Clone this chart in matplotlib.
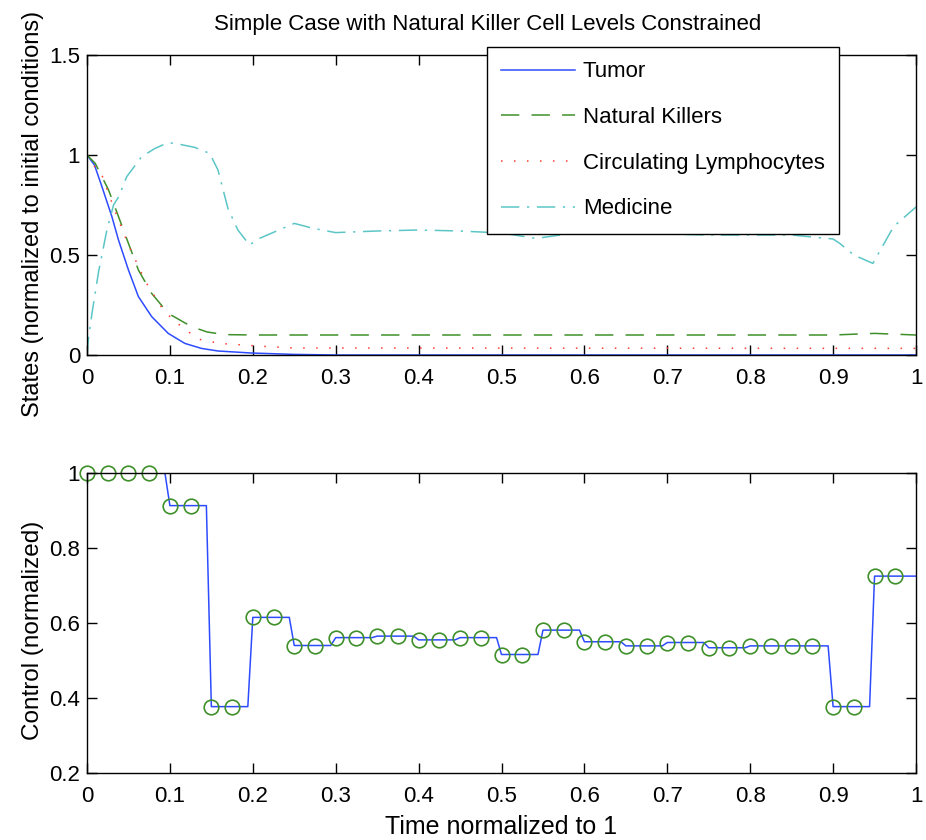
import matplotlib
matplotlib.use('Agg')
import matplotlib.pyplot as plt
import numpy as np

plt.rcParams['font.family'] = ['Liberation Sans', 'DejaVu Sans']

# top panel: states (normalized to initial conditions)
t_tumor = [0, 0.009, 0.018, 0.03, 0.038, 0.05, 0.062, 0.078, 0.098, 0.118, 0.138, 0.158, 0.198, 0.25, 0.3, 1.0]
tumor = [1.0, 0.95, 0.842, 0.692, 0.575, 0.425, 0.292, 0.192, 0.108, 0.058, 0.033, 0.02, 0.01, 0.003, 0.0, 0.0]

t_nk = [0, 0.01, 0.026, 0.038, 0.05, 0.062, 0.078, 0.098, 0.126, 0.145, 0.166, 0.2, 0.9, 0.95, 1.0]
nk = [1.0, 0.958, 0.825, 0.692, 0.558, 0.425, 0.308, 0.208, 0.142, 0.115, 0.102, 0.1, 0.1, 0.108, 0.1]

t_lym = [0, 0.006, 0.018, 0.026, 0.034, 0.046, 0.052, 0.064, 0.072, 0.088, 0.096, 0.108, 0.122,
         0.136, 0.16, 0.188, 0.217, 0.25, 1.0]
lym = [1.0, 0.958, 0.9, 0.808, 0.717, 0.592, 0.533, 0.425, 0.358, 0.25, 0.208, 0.162, 0.117,
       0.078, 0.058, 0.05, 0.042, 0.035, 0.033]

t_med = [0, 0.002, 0.006, 0.014, 0.024, 0.032, 0.038, 0.048, 0.066, 0.082, 0.098, 0.11, 0.13,
         0.148, 0.158, 0.17, 0.182, 0.196, 0.208, 0.25, 0.273, 0.3, 0.35, 0.4, 0.45, 0.5, 0.542,
         0.6, 0.65, 0.7, 0.75, 0.8, 0.85, 0.9, 0.908, 0.925, 0.948, 0.973, 1.0]
med = [0.0, 0.092, 0.208, 0.417, 0.625, 0.75, 0.79, 0.892, 0.992, 1.033, 1.062, 1.055, 1.038,
       1.008, 0.925, 0.733, 0.625, 0.55, 0.583, 0.658, 0.633, 0.612, 0.62, 0.625, 0.62, 0.61, 0.583,
       0.617, 0.61, 0.605, 0.6, 0.6, 0.6, 0.58, 0.558, 0.5, 0.458, 0.642, 0.74]

# bottom panel: control, one value every 0.025
t_ctrl = np.arange(40) * 0.025
ctrl = [1.0, 1.0, 1.0, 1.0, 0.913, 0.913, 0.377, 0.377, 0.615, 0.615,
        0.540, 0.540, 0.561, 0.561, 0.565, 0.565, 0.555, 0.555, 0.561, 0.561,
        0.516, 0.516, 0.581, 0.581, 0.550, 0.550, 0.539, 0.539, 0.548, 0.548,
        0.534, 0.534, 0.539, 0.539, 0.539, 0.539, 0.377, 0.377, 0.725, 0.725]

blue = '#2e4cff'
green = '#3f8f2a'
red = '#ff3b2f'
cyan = '#5cc6c6'
fs = 16
lfs = 17.5

fig = plt.figure(figsize=(9.26, 8.4), dpi=100)
ax1 = fig.add_axes([87/926, 1-355/840, 829/926, 300/840])
ax2 = fig.add_axes([87/926, 1-773/840, 829/926, 300/840])

ax1.plot(t_tumor, tumor, color=blue, lw=1.1, label='Tumor')
ax1.plot(t_nk, nk, color=green, lw=1.1, dashes=(12, 8), label='Natural Killers')
ax1.plot(t_lym, lym, color=red, lw=1.1, dashes=(1, 7.5), label='Circulating Lymphocytes')
ax1.plot(t_med, med, color=cyan, lw=1.1, dashes=(12, 5, 1.5, 5), label='Medicine')
ax1.set_xlim(0, 1)
ax1.set_ylim(0, 1.5)
ax1.set_yticks([0, 0.5, 1, 1.5])
ax1.set_yticklabels(['0', '0.5', '1', '1.5'])
ax1.set_ylabel('States (normalized to initial conditions)', fontsize=17)
ax1.yaxis.set_label_coords(-0.052, 0.47)
ax1.set_title('Simple Case with Natural Killer Cell Levels Constrained', fontsize=fs, pad=18, x=0.483)
leg = ax1.legend(loc='upper left', bbox_to_anchor=(0.4825, 1.027), borderaxespad=0, fontsize=fs,
                 handlelength=3.3, handletextpad=0.36, labelspacing=1.11,
                 borderpad=0.65, fancybox=False, framealpha=1, edgecolor='black')
leg.get_frame().set_linewidth(1.0)

# step line with short ramps between control levels
xs, ys = [], []
for k in range(len(ctrl)):
    xs += [t_ctrl[k], t_ctrl[k] + 0.019]
    ys += [ctrl[k], ctrl[k]]
xs[-1] = 1.0
ax2.plot(xs, ys, color=blue, lw=1.1)
ax2.plot(t_ctrl, ctrl, 'o', mfc='none', mec=green, ms=10.5, mew=1.2, clip_on=False)
ax2.set_xlim(0, 1)
ax2.set_ylim(0.2, 1)
ax2.set_yticks([0.2, 0.4, 0.6, 0.8, 1])
ax2.set_yticklabels(['0.2', '0.4', '0.6', '0.8', '1'])
ax2.set_ylabel('Control (normalized)', fontsize=lfs)
ax2.yaxis.set_label_coords(-0.052, 0.477)
ax2.set_xlabel('Time normalized to 1', fontsize=18, labelpad=6)

xt = np.round(np.arange(0, 1.01, 0.1), 1)
xl = ['0'] + ['%.1f' % v for v in xt[1:-1]] + ['1']
for ax in (ax1, ax2):
    ax.set_xticks(xt)
    ax.set_xticklabels(xl)
    ax.tick_params(direction='in', length=7, width=1, top=True, right=True, labelsize=fs)
    ax.tick_params(axis='x', pad=9)
    ax.tick_params(axis='y', pad=5)
    for s in ax.spines.values():
        s.set_linewidth(1.0)

fig.savefig('out.png', dpi=100)
